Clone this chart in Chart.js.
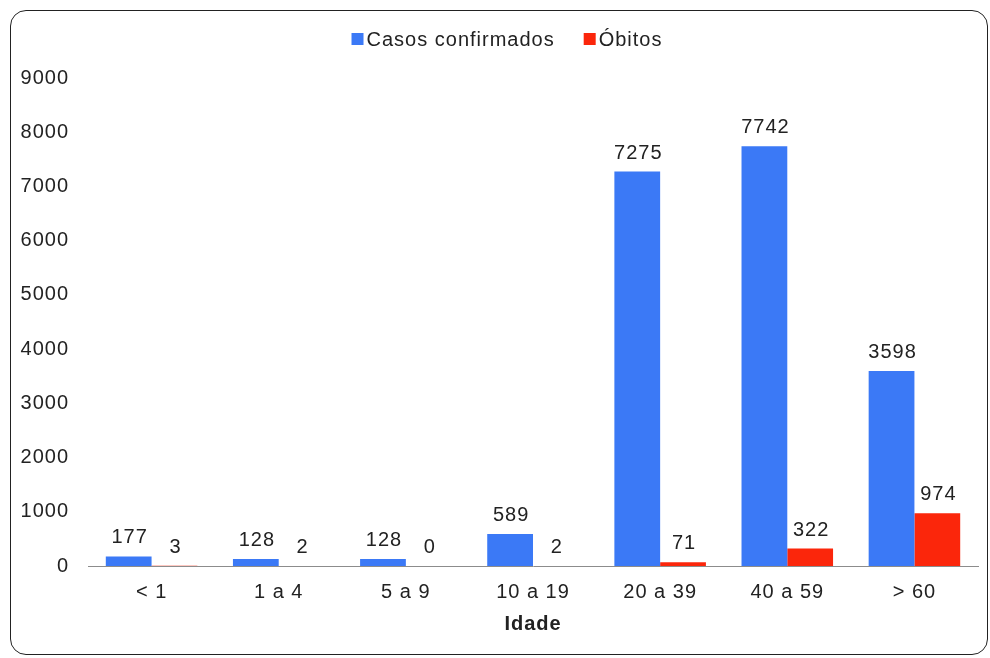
<!DOCTYPE html>
<html>
<head>
<meta charset="utf-8">
<script src="https://cdn.jsdelivr.net/npm/chart.js@4/dist/chart.umd.min.js"></script>
<style>
  html, body { margin: 0; padding: 0; background: #fff; }
  #wrap { position: relative; width: 990px; height: 658px; }
  #frame {
    position: absolute; left: 10px; top: 10px; width: 976px; height: 643px;
    border: 1.5px solid #222; border-radius: 16px; pointer-events: none;
  }
</style>
</head>
<body>
<div id="wrap">
  <canvas id="idadeChart" width="990" height="658"></canvas>
  <div id="frame"></div>
</div>
<script>
const faixas = ["< 1", "1 a 4", "5 a 9", "10 a 19", "20 a 39", "40 a 59", "> 60"];
const casos = [177, 128, 128, 589, 7275, 7742, 3598];
const obitos = [3, 2, 0, 2, 71, 322, 974];
const yTicks = [0, 1000, 2000, 3000, 4000, 5000, 6000, 7000, 8000, 9000];

const FONTE = "'Liberation Sans', Arial, sans-serif";
Chart.defaults.font.family = FONTE;
Chart.defaults.font.size = 20;
Chart.defaults.color = "#222";

// o original tem um espaçamento entre letras um pouco maior
const espacamento = {
  id: "espacamento",
  beforeUpdate(chart) { chart.ctx.letterSpacing = "1px"; },
  beforeDraw(chart) { chart.ctx.letterSpacing = "1px"; },
};

// etiquetas de valor sobre cada barra
const valorLabels = {
  id: "valorLabels",
  afterDatasetsDraw(chart) {
    const ctx = chart.ctx;
    ctx.save();
    ctx.font = "20px " + FONTE;
    ctx.fillStyle = "#222";
    ctx.textAlign = "center";
    ctx.textBaseline = "alphabetic";
    chart.data.datasets.forEach((ds, i) => {
      chart.getDatasetMeta(i).data.forEach((bar, j) => {
        ctx.fillText(String(ds.data[j]), bar.x + 1, bar.y - 13);
      });
    });
    ctx.restore();
  }
};

// legenda desenhada à mão (quadrado colado ao texto)
const legendaTopo = {
  id: "legendaTopo",
  afterDraw(chart) {
    const ctx = chart.ctx;
    const box = 12, gapTexto = 3, gapItem = 29, yMid = 39;
    ctx.save();
    ctx.font = "20px " + FONTE;
    const itens = chart.data.datasets.map(ds => ({
      texto: ds.label, cor: ds.backgroundColor, w: ctx.measureText(ds.label).width,
    }));
    const total = itens.reduce((s, it) => s + box + gapTexto + it.w, 0) + gapItem * (itens.length - 1);
    let x = chart.width / 2 + 12 - total / 2;
    ctx.textBaseline = "middle";
    ctx.textAlign = "left";
    itens.forEach(it => {
      ctx.fillStyle = it.cor;
      ctx.fillRect(x, yMid - box / 2, box, box);
      x += box + gapTexto;
      ctx.fillStyle = "#222";
      ctx.fillText(it.texto, x, yMid + 1);
      x += it.w + gapItem;
    });
    ctx.restore();
  }
};

new Chart(document.getElementById("idadeChart"), {
  type: "bar",
  data: {
    labels: faixas,
    datasets: [
      { label: "Casos confirmados", data: casos, backgroundColor: "#3b79f6" },
      { label: "Óbitos", data: obitos, backgroundColor: "#fb260b" },
    ],
  },
  options: {
    responsive: false,
    animation: false,
    layout: { padding: { left: 10, right: 12, top: 78, bottom: 12 } },
    datasets: { bar: { categoryPercentage: 0.72, barPercentage: 1.0 } },
    plugins: {
      legend: { display: false },
      tooltip: { enabled: false },
    },
    scales: {
      x: {
        grid: { display: false, drawTicks: false },
        border: { display: true, color: "#8c8c8c", width: 1 },
        ticks: { padding: 14 },
        title: { display: true, text: "Idade", font: { weight: "bold", size: 20 }, padding: { top: 4, bottom: 10 } },
        afterFit: s => { s.height = 80; },
      },
      y: {
        min: 0,
        max: 9000,
        grid: { display: false, drawTicks: false },
        border: { display: false },
        afterBuildTicks: s => { s.ticks = yTicks.map(v => ({ value: v })); },
        ticks: { padding: 19, callback: v => String(v) },
        afterFit: s => { s.width = 78; },
      },
    },
  },
  plugins: [espacamento, valorLabels, legendaTopo],
});
</script>
</body>
</html>
